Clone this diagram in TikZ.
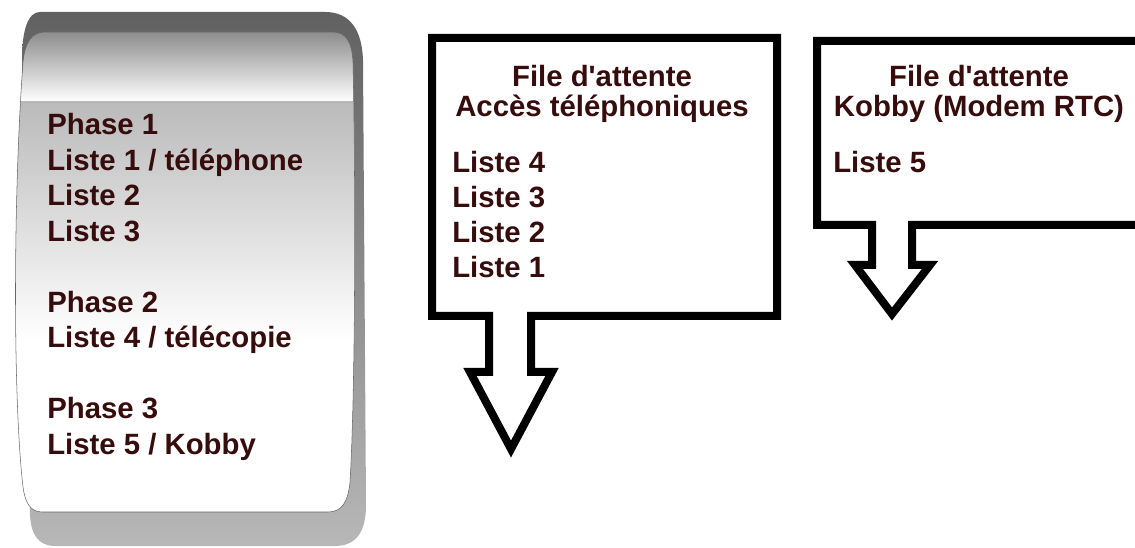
\documentclass[tikz,border=0pt]{standalone}
\usepackage{fontspec}
\setmainfont{Liberation Sans}[Ligatures=TeXOff]
\usepackage{tikz}
\usetikzlibrary{calc}
\usepackage{xcolor}

\definecolor{txtmaroon}{RGB}{54,12,12}
% outline of the front sheet of the scroll
\newcommand{\scrollsheet}{(45,32) -- (333,32) .. controls (346,32) and (352,42) .. (353,62)
  .. controls (356,200) and (355,400) .. (350,482) .. controls (348,502) and (342,512) .. (328,512)
  -- (42,512) .. controls (30,512) and (25,502) .. (23,487)
  .. controls (13,400) and (13,200) .. (23,62) .. controls (25,42) and (32,32) .. (45,32) -- cycle}

\tikzset{
  lbl/.style={font=\bfseries\fontsize{22}{26}\selectfont, text=txtmaroon, inner sep=0pt, anchor=base west},
  ttl/.style={lbl, anchor=base},
  callout/.style={draw=black, line width=6pt, line join=miter, fill=white},
}

\begin{document}
\begin{tikzpicture}[x=0.75pt, y=-0.75pt]
  % page
  \useasboundingbox (0,0) rectangle (1135,548);
  \clip (0,0) rectangle (1135,548);
  \fill[white] (0,0) rectangle (1135,548);
  % scroll: back roll
  \shade[top color=black!62, middle color=black!40, bottom color=black!28]
    (40,12) -- (325,12) .. controls (350,12) and (362,30) .. (363,60) -- (366,505)
    .. controls (366,532) and (356,546) .. (335,546) -- (55,546)
    .. controls (38,546) and (31,534) .. (30,515) -- (22,60)
    .. controls (22,30) and (28,12) .. (40,12) -- cycle;
  % scroll: front sheet
  \begin{scope}
    \clip \scrollsheet;
    \fill[white] (0,102) rectangle (370,512);
    \shade[top color=black!45, bottom color=white] (0,32) rectangle (370,102);
    \shade[top color=black!27, middle color=black!8, bottom color=white] (0,102) rectangle (370,340);
  \end{scope}
  \draw[black!60, thin] \scrollsheet;
  \draw[black!30, thin] (22,102) -- (354,102);
  % scroll text
  \node[lbl] (ph1) at (47,135) {Phase 1};
  \node[lbl] (ls1) at (47,170.5) {Liste 1 / téléphone};
  \node[lbl] (ls2) at (47,206) {Liste 2};
  \node[lbl] (ls3) at (47,241.5) {Liste 3};
  \node[lbl] (ph2) at (47,312.5) {Phase 2};
  \node[lbl] (ls4) at (47,348) {Liste 4 / télécopie};
  \node[lbl] (ph3) at (47,419) {Phase 3};
  \node[lbl] (ls5) at (47,454.5) {Liste 5 / Kobby};
  % queue: telephone access
  \draw[callout] (432,38) -- (777,38) -- (777,316) -- (531,316) -- (531,372) -- (552,372)
    -- (511,449) -- (470,372) -- (489,372) -- (489,316) -- (432,316) -- cycle;
  \node[ttl] (acct1) at (602,87) {File d'attente};
  \node[ttl] (acct2) at (602,117) {Accès téléphoniques};
  \foreach \n [count=\i] in {4,3,2,1}
    \node[lbl] (acc\n) at (452,{138+35*\i}) {Liste \n};
  % queue: Kobby
  \draw[callout] (1150,41) -- (817,41) -- (817,225) -- (872,225) -- (872,265) -- (855,265)
    -- (892,314) -- (930,265) -- (912,265) -- (912,225) -- (1150,225);
  \node[ttl] (kobt1) at (979,87) {File d'attente};
  \node[ttl] (kobt2) at (979,117) {Kobby (Modem RTC)};
  \node[lbl] (kob5) at (833,173) {Liste 5};
\end{tikzpicture}
\end{document}
